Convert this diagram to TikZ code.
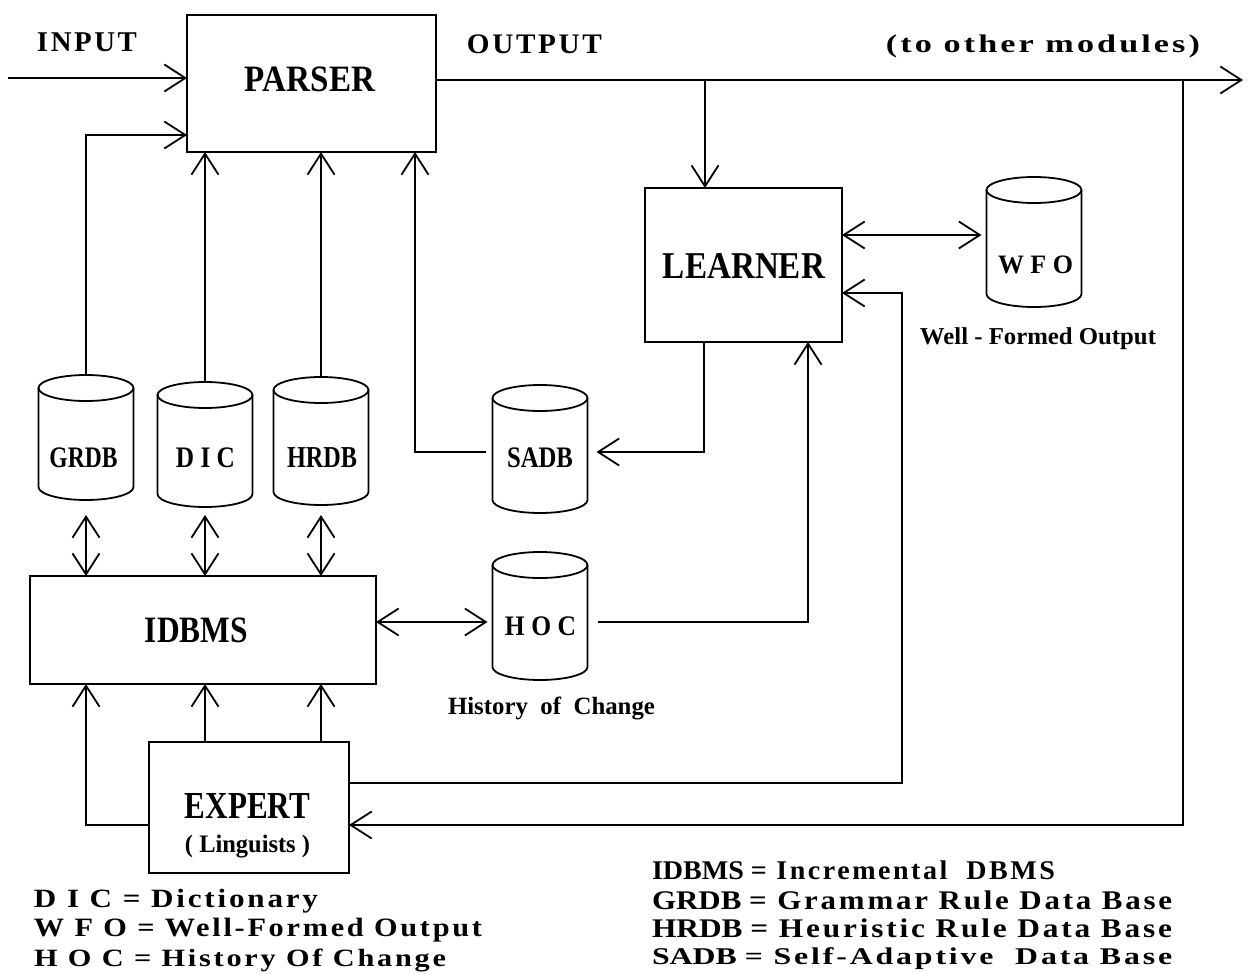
\documentclass[tikz,border=0pt]{standalone}
\usepackage{graphicx}
\usepackage{fontspec}
\setmainfont{Liberation Serif}
\newfontfamily\lgfont{Liberation Serif}[LetterSpace=9]
\usetikzlibrary{arrows.meta,calc}
\newcommand\fitt[3]{\resizebox*{#1}{#2}{\bfseries #3}}
\newcommand\lgt[3]{\resizebox*{#1}{#2}{\lgfont\bfseries #3}}
\newcommand\drawcyl[1]{%
  \draw[ln] ([yshift=-13pt]#1.north west) -- ([yshift=13pt]#1.south west)
     arc[start angle=180,end angle=360,x radius=47.5pt,y radius=13pt]
     -- ([yshift=-13pt]#1.north east);
  \draw[ln] ([yshift=-13pt]#1.north) ellipse[x radius=47.5pt,y radius=13pt];}
\tikzset{
  >={Straight Barb[length=21pt,width=27pt]},
  ln/.style={line width=1.8pt},
  arr/.style={ln,->},
  dbl/.style={ln,<->},
  box/.style={draw,line width=1.8pt,inner sep=0pt,outer sep=0pt},
  body/.style={inner sep=0pt,outer sep=0pt,minimum width=95pt},
  lbl/.style={inner sep=0pt,outer sep=0pt,anchor=center},
}
\begin{document}
\begin{tikzpicture}[x=1pt,y=-1pt]
\useasboundingbox (0,0) rectangle (1251,974);
% boxes
\node[box,minimum width=249pt,minimum height=137pt] (parser) at (311.5,83.5) {};
\node[box,minimum width=197pt,minimum height=154pt] (learner) at (743.5,265) {};
\node[box,minimum width=346pt,minimum height=108pt] (idbms) at (203,630) {};
\node[box,minimum width=200pt,minimum height=131pt] (expert) at (249,807.5) {};
% cylinders
\node[body,minimum height=125pt] (grdb) at (86,437.5) {};
\node[body,minimum height=125pt] (dic) at (205,444.5) {};
\node[body,minimum height=128pt] (hrdb) at (321,441) {};
\node[body,minimum height=128pt] (sadb) at (540,449) {};
\node[body,minimum height=128pt] (hoc) at (540,616) {};
\node[body,minimum height=130pt] (wfo) at (1034,242) {};
\foreach \c in {grdb,dic,hrdb,sadb,hoc,wfo}{\drawcyl{\c}}
% labels
\node[lbl] (tinput) at (87,42.5) {\lgt{100pt}{19pt}{INPUT}};
\node[lbl] (toutput) at (534.5,44) {\lgt{135pt}{19pt}{OUTPUT}};
\node[lbl] (tother) at (1043,46.5) {\lgt{314pt}{23pt}{(to other modules)}};
\node[lbl] (tparser) at (310,79.5) {\fitt{130pt}{25pt}{PARSER}};
\node[lbl] (tlearner) at (744,265.5) {\fitt{162pt}{25pt}{LEARNER}};
\node[lbl] (tidbms) at (196.5,630.5) {\fitt{103pt}{25pt}{IDBMS}};
\node[lbl] (texpert) at (247.5,805.5) {\fitt{125pt}{25pt}{EXPERT}};
\node[lbl] (tling) at (247.5,846.5) {\fitt{125pt}{23pt}{( Linguists )}};
\node[lbl] (tgrdb) at (83.5,457.5) {\fitt{68pt}{20pt}{GRDB}};
\node[lbl] (tdic) at (205.5,457.5) {\fitt{59pt}{20pt}{D I C}};
\node[lbl] (thrdb) at (322,457.5) {\fitt{70pt}{20pt}{HRDB}};
\node[lbl] (tsadb) at (540,457.5) {\fitt{66pt}{20pt}{SADB}};
\node[lbl] (thoc) at (540.5,626) {\fitt{71pt}{19pt}{H O C}};
\node[lbl] (twfo) at (1035.5,265) {\fitt{75pt}{18pt}{W F O}};
\node[lbl] (twfl) at (1038,339) {\fitt{236pt}{22pt}{Well - Formed Output}};
\node[lbl] (thcl) at (551.5,708) {\fitt{207pt}{23pt}{History\ \ of\ \ Change}};
% legend
\node[lbl,anchor=west] (lg1) at (34,901) {\lgt{284pt}{24pt}{D I C = Dictionary}};
\node[lbl,anchor=west] (lg2) at (34,930) {\lgt{448pt}{24pt}{W F O = Well-Formed Output}};
\node[lbl,anchor=west] (lg3) at (34,960) {\lgt{412pt}{23pt}{H O C = History Of Change}};
\node[lbl,anchor=west] (lg4) at (652,870) {\resizebox*{403pt}{19pt}{\bfseries IDBMS {\lgfont = Incremental\ \ DBMS}}};
\node[lbl,anchor=west] (lg5) at (652,900) {\resizebox*{520pt}{19pt}{\bfseries GRDB {\lgfont = Grammar Rule Data Base}}};
\node[lbl,anchor=west] (lg6) at (652,928) {\resizebox*{520pt}{19pt}{\bfseries HRDB {\lgfont = Heuristic Rule Data Base}}};
\node[lbl,anchor=west] (lg7) at (652,959) {\resizebox*{520pt}{22pt}{\bfseries SADB {\lgfont = Self-Adaptive\ \ Data Base}}};
% helper coordinates
\coordinate (in) at (8,78);
\coordinate (out) at (1243,80);
\coordinate (br) at (705,80);
\coordinate (rv) at (1183,80);
\coordinate (g2) at (0,135);
\coordinate (sx) at (415,0);
\coordinate (dbl) at (0,515);
\coordinate (ex1) at (902,783);
\coordinate (le2) at (0,293);
\coordinate (ho) at (808,0);
\coordinate (ls) at (704,0);
\coordinate (ex2) at (0,825);
\coordinate (sadbW) at ($(sadb.west)+(-7pt,-3pt)$);
\coordinate (sadbE) at ($(sadb.east)+(9pt,-3pt)$);
\coordinate (hocW) at ($(hoc.west)+(-5pt,-6pt)$);
\coordinate (hocE) at ($(hoc.east)+(10pt,-6pt)$);
\coordinate (wfoW) at ($(wfo.west)+(-5pt,7pt)$);
% connectors
\draw[arr] (in) -- (in -| parser.west);
\draw[arr] (grdb.north) |- (parser.west |- g2);
\draw[arr] (dic.north) -- (dic.north |- parser.south);
\draw[arr] (hrdb.north) -- (hrdb.north |- parser.south);
\draw[arr] (sadbW) -| (parser.south -| sx);
\draw[arr] (parser.east |- out) -- (out);
\draw[arr] (br) -- (br |- learner.north);
\draw[dbl] (learner.east |- wfoW) -- (wfoW);
\draw[arr] (ls |- learner.south) |- (sadbE);
\draw[arr] (hocE) -| (ho |- learner.south);
\draw[arr] (expert.east |- ex1) -| (ex1 |- le2) -- (learner.east |- le2);
\draw[arr] (rv) |- (expert.east |- ex2);
\draw[arr] (expert.west |- ex2) -| (grdb.center |- idbms.south);
\draw[arr] (expert.north -| dic.center) -- (idbms.south -| dic.center);
\draw[arr] (expert.north -| hrdb.center) -- (idbms.south -| hrdb.center);
\foreach \c in {grdb,dic,hrdb} \draw[dbl] (\c.center |- dbl) -- (\c.center |- idbms.north);
\draw[dbl] (idbms.east |- hocW) -- (hocW);
\end{tikzpicture}
\end{document}
